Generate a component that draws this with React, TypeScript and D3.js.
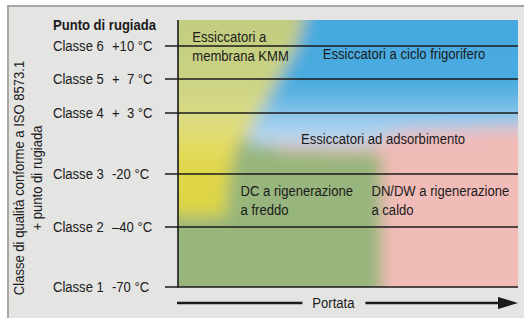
import { useEffect, useRef } from "react";
import * as d3 from "d3";

// quality classes (ISO 8573.1) and their pressure dew points
const classNames = ["Classe 6", "Classe 5", "Classe 4", "Classe 3", "Classe 2", "Classe 1"];
const dewPoints = [10, 7, 3, -20, -40, -70];
const dewLabels = ["+10 °C", "+  7 °C", "+  3 °C", "-20 °C", "\u201340 °C", "-70 °C"];

// application zones, as [flow %, dew point °C] outlines
type Pt = [number, number];
const adsorptionZone: Pt[] = [[-8, -90], [60, -90], [60, -12], [30, -11], [20, -5], [-8, -5]];
const membraneZone: Pt[] = [
  [-8, 16], [40, 16], [35, 10], [24, 3], [21, -3], [17, -10], [15, -20], [14, -36], [-8, -36],
];
const refrigZone: Pt[] = [
  [40, 16], [108, 16], [108, -2], [66, -4], [56, -9], [21, -9], [21, -3], [24, 3], [35, 10],
];

// zone captions: [text lines, flow %, dew point °C of first baseline]
const zoneLabels: { lines: string[]; flow: number; dew: number }[] = [
  { lines: ["Essiccatori a", "membrana KMM"], flow: 4.2, dew: 10.4 },
  { lines: ["Essiccatori a ciclo frigorifero"], flow: 42.6, dew: 8.8 },
  { lines: ["Essiccatori ad adsorbimento"], flow: 36.2, dew: -8.6 },
  { lines: ["DC a rigenerazione", "a freddo"], flow: 18.4, dew: -28.3 },
  { lines: ["DN/DW a rigenerazione", "a caldo"], flow: 56.9, dew: -28.3 },
];

const axisTitle = ["Classe di qualità conforme a ISO 8573.1", "+ punto di rugiada"];
const flowLabel = "Portata";

export default function App() {
  const svgRef = useRef<SVGSVGElement>(null);

  useEffect(() => {
    if (!svgRef.current) return;
    const svg = d3.select(svgRef.current);
    svg.selectAll("*").remove();

    const W = 524;
    const H = 318;
    const plot = { left: 178, right: 518, top: 20, bottom: 287 };
    const font = "'Liberation Sans', Arial, Helvetica, sans-serif";
    const squeeze = 0.86; // narrow Helvetica look
    const ink = "#1b1b1b";

    const x = d3.scaleLinear().domain([0, 100]).range([plot.left, plot.right]);
    // dew point axis is not linear in the original, so piecewise per class
    const y = d3
      .scaleLinear()
      .domain([...dewPoints].reverse())
      .range([287, 227, 174, 113, 79, 46]);

    const defs = svg.append("defs");
    defs
      .append("clipPath")
      .attr("id", "plotClip")
      .append("rect")
      .attr("x", plot.left)
      .attr("y", plot.top)
      .attr("width", plot.right - plot.left)
      .attr("height", plot.bottom - plot.top);

    defs
      .append("filter")
      .attr("id", "soft")
      .attr("filterUnits", "userSpaceOnUse")
      .attr("x", 0)
      .attr("y", 0)
      .attr("width", W)
      .attr("height", H)
      .append("feGaussianBlur")
      .attr("in", "SourceGraphic")
      .attr("stdDeviation", 8);

    const grad = (id: string, stops: [number, string][]) => {
      const g = defs
        .append("linearGradient")
        .attr("id", id)
        .attr("gradientUnits", "userSpaceOnUse")
        .attr("x1", 0)
        .attr("x2", 0)
        .attr("y1", plot.top)
        .attr("y2", plot.bottom);
      stops.forEach(([o, c]) => g.append("stop").attr("offset", o).attr("stop-color", c));
    };
    grad("blueGrad", [
      [0, "#46a9df"],
      [0.24, "#4aabdf"],
      [0.31, "#6cb9e5"],
      [0.37, "#94c9eb"],
      [0.42, "#b2d4ef"],
      [0.47, "#bcd6ea"],
      [0.52, "#c4d2d8"],
    ]);
    grad("yellowGrad", [
      [0, "#c2cc80"],
      [0.2, "#c9d282"],
      [0.32, "#d5d886"],
      [0.4, "#dfdc7c"],
      [0.48, "#e3db5c"],
      [0.58, "#e0d646"],
      [0.78, "#dad444"],
    ]);

    // frame
    svg.append("rect").attr("width", W).attr("height", H).attr("fill", "#ffffff");
    svg.append("rect").attr("x", 9).attr("y", 7).attr("width", W - 9).attr("height", H - 7).attr("fill", "#e4e4e2");
    svg.append("line").attr("x1", 7).attr("x2", W).attr("y1", 6).attr("y2", 6).attr("stroke", "#a7a89f").attr("stroke-width", 2);
    svg.append("line").attr("x1", 8).attr("x2", 8).attr("y1", 5).attr("y2", H).attr("stroke", "#a7a89f").attr("stroke-width", 2);

    // coloured zones: drawn sharp, blurred, then cut to the plot box
    const area = svg.append("g").attr("clip-path", "url(#plotClip)");
    const blurred = area.append("g").attr("filter", "url(#soft)");
    blurred
      .append("rect")
      .attr("x", plot.left - 30)
      .attr("y", plot.top - 30)
      .attr("width", plot.right - plot.left + 60)
      .attr("height", plot.bottom - plot.top + 60)
      .attr("fill", "#f1bbb8");

    const poly = d3
      .line<Pt>()
      .x((d) => x(d[0]))
      .y((d) => y(d[1]))
      .curve(d3.curveLinearClosed);

    blurred.append("path").attr("d", poly(adsorptionZone)).attr("fill", "#97b57b");
    blurred.append("path").attr("d", poly(refrigZone)).attr("fill", "url(#blueGrad)");
    blurred.append("path").attr("d", poly(membraneZone)).attr("fill", "url(#yellowGrad)");

    // class grid lines with ticks
    svg
      .append("g")
      .selectAll("line")
      .data(dewPoints)
      .join("line")
      .attr("x1", 165)
      .attr("x2", plot.right)
      .attr("y1", (d) => y(d))
      .attr("y2", (d) => y(d))
      .attr("stroke", ink)
      .attr("stroke-width", 1.4);

    svg
      .append("line")
      .attr("x1", plot.left)
      .attr("x2", plot.left)
      .attr("y1", plot.top)
      .attr("y2", plot.bottom + 0.7)
      .attr("stroke", ink)
      .attr("stroke-width", 1.6);

    const addText = (
      parent: d3.Selection<any, any, any, any>,
      tx: number,
      ty: number,
      str: string,
      opts: { anchor?: string; weight?: string; rotate?: boolean } = {}
    ) =>
      parent
        .append("text")
        .attr(
          "transform",
          `translate(${tx},${ty})${opts.rotate ? " rotate(-90)" : ""} scale(${squeeze},1)`
        )
        .attr("text-anchor", opts.anchor ?? "start")
        .attr("font-family", font)
        .attr("font-size", 15.2)
        .attr("font-weight", opts.weight ?? "normal")
        .attr("fill", ink)
        .style("white-space", "pre")
        .text(str);

    const labels = svg.append("g");
    addText(labels, 53, 29.5, "Punto di rugiada", { weight: "bold" });
    dewPoints.forEach((d, i) => {
      addText(labels, 53, y(d) + 4.5, classNames[i]);
      addText(labels, 112, y(d) + 4.5, dewLabels[i]);
    });

    addText(labels, 24, 178, axisTitle[0], { anchor: "middle", rotate: true });
    addText(labels, 41.5, 178, axisTitle[1], { anchor: "middle", rotate: true });

    zoneLabels.forEach((z) => {
      z.lines.forEach((ln, j) => {
        addText(labels, x(z.flow), y(z.dew) + j * 19, ln);
      });
    });

    // flow arrow
    const arrowY = 303;
    const mid = x(45.7);
    svg.append("line").attr("x1", plot.left - 1).attr("x2", mid - 31).attr("y1", arrowY).attr("y2", arrowY).attr("stroke", ink).attr("stroke-width", 2.5);
    svg.append("line").attr("x1", mid + 32).attr("x2", plot.right - 18).attr("y1", arrowY).attr("y2", arrowY).attr("stroke", ink).attr("stroke-width", 2.5);
    svg
      .append("path")
      .attr("d", `M${plot.right - 20},${arrowY - 6}L${plot.right},${arrowY}L${plot.right - 20},${arrowY + 6}Z`)
      .attr("fill", ink);
    addText(labels, mid, 307.5, flowLabel, { anchor: "middle" });
  }, []);

  return (
    <div style={{ position: "fixed", left: 0, top: 0 }}>
      <svg ref={svgRef} width={524} height={318} style={{ display: "block" }} />
    </div>
  );
}
